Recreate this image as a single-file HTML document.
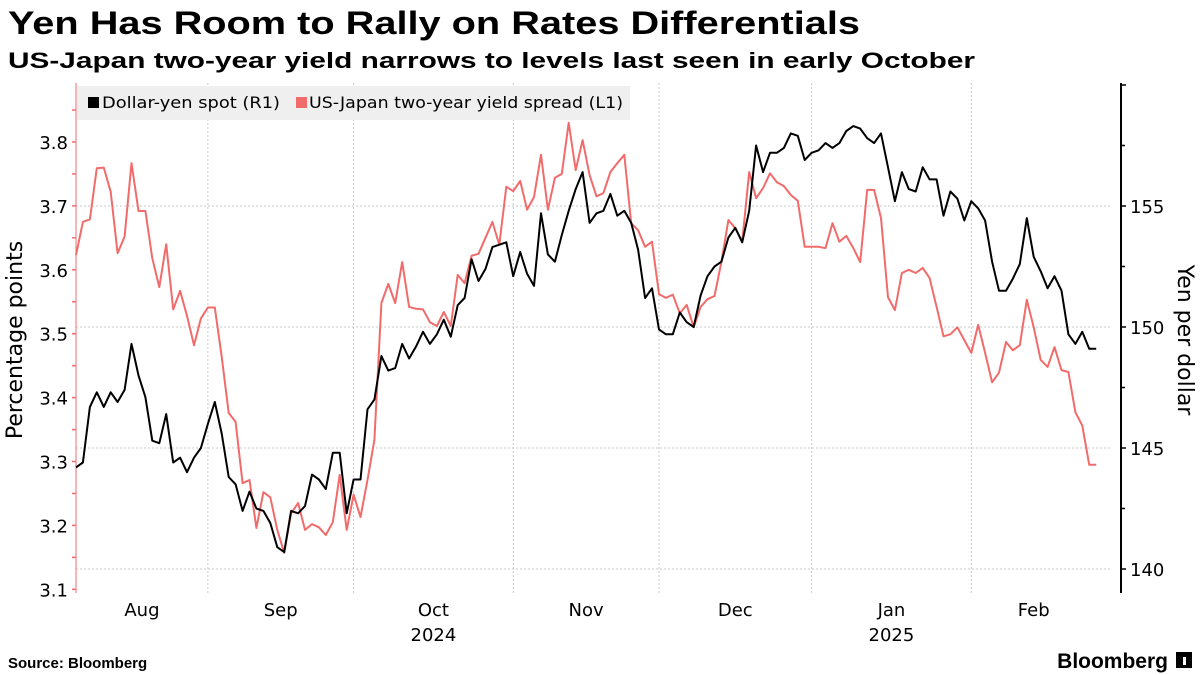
<!DOCTYPE html>
<html><head><meta charset="utf-8"><style>
body{margin:0;background:#fff;width:1200px;height:675px;overflow:hidden}
svg{display:block;font-family:"Liberation Sans",sans-serif}
.dv{font-family:"DejaVu Sans","Liberation Sans",sans-serif}
</style></head><body>
<svg id="chart" width="1200" height="675" viewBox="0 0 1200 675">
<text x="8" y="34" font-size="32" font-weight="bold" textLength="852" lengthAdjust="spacingAndGlyphs">Yen Has Room to Rally on Rates Differentials</text>
<text x="8" y="68" font-size="22" font-weight="bold" textLength="967" lengthAdjust="spacingAndGlyphs">US-Japan two-year yield narrows to levels last seen in early October</text>
<g id="grid"></g>
<rect x="77" y="86" width="553" height="34" fill="#efefef"/>
<rect x="88" y="97" width="11" height="11" fill="#000"/>
<text class="dv" x="102" y="108" font-size="16" textLength="178" lengthAdjust="spacingAndGlyphs">Dollar-yen spot (R1)</text>
<rect x="296" y="97" width="11" height="11" fill="#f26b6b"/>
<text class="dv" x="309" y="108" font-size="16" textLength="314" lengthAdjust="spacingAndGlyphs">US-Japan two-year yield spread (L1)</text>
<g id="axes"></g>
<g id="series"></g>
<text class="dv" x="22" y="340" font-size="22" text-anchor="middle" transform="rotate(-90 22 340)">Percentage points</text>
<text class="dv" x="1178" y="340" font-size="22" text-anchor="middle" transform="rotate(90 1178 340)">Yen per dollar</text>
<text x="8" y="668" font-size="15" font-weight="bold">Source: Bloomberg</text>
<text x="1168" y="668" font-size="21" font-weight="bold" text-anchor="end">Bloomberg</text>
<rect x="1176" y="652" width="16" height="16" fill="#000"/>
<rect x="1183" y="657" width="3" height="8" fill="#fff"/>
</svg>
<script>
const startDate = "2024-08-06";
const usdjpy = [144.2,144.4,146.7,147.3,146.7,147.3,146.9,147.4,149.3,148.0,147.1,145.3,145.2,146.4,144.4,144.6,144.0,144.6,145.0,146.0,146.9,145.6,143.8,143.5,142.4,143.2,142.5,142.4,141.9,140.9,140.7,142.4,142.3,142.6,143.9,143.7,143.3,144.8,144.8,142.3,143.7,143.7,146.6,147.0,148.8,148.2,148.3,149.3,148.7,149.2,149.8,149.3,149.7,150.3,149.6,150.9,151.2,152.8,151.9,152.4,153.3,153.4,153.5,152.1,153.1,152.2,151.7,154.7,153.0,152.7,153.8,154.8,155.7,156.4,154.3,154.7,154.8,155.5,154.6,154.8,154.3,153.2,151.2,151.6,149.9,149.7,149.7,150.6,150.2,150.0,151.3,152.1,152.5,152.7,153.7,154.1,153.5,154.8,157.5,156.4,157.2,157.2,157.4,158.0,157.9,156.9,157.2,157.3,157.6,157.4,157.6,158.1,158.3,158.2,157.8,157.6,158.0,156.6,155.2,156.4,155.7,155.6,156.6,156.1,156.1,154.6,155.6,155.3,154.4,155.2,154.9,154.4,152.7,151.5,151.5,152.0,152.6,154.5,152.9,152.3,151.6,152.1,151.5,149.7,149.3,149.8,149.1,149.1];
const spread = [3.623,3.675,3.679,3.759,3.760,3.722,3.626,3.652,3.767,3.692,3.692,3.618,3.573,3.640,3.538,3.567,3.528,3.482,3.524,3.541,3.541,3.464,3.376,3.362,3.266,3.271,3.196,3.252,3.244,3.193,3.157,3.219,3.235,3.193,3.202,3.197,3.185,3.205,3.279,3.193,3.248,3.213,3.271,3.334,3.548,3.578,3.548,3.612,3.542,3.539,3.538,3.518,3.512,3.534,3.512,3.592,3.579,3.622,3.625,3.650,3.675,3.639,3.730,3.723,3.739,3.694,3.714,3.780,3.694,3.744,3.750,3.830,3.756,3.803,3.748,3.715,3.720,3.753,3.767,3.780,3.673,3.662,3.636,3.644,3.562,3.556,3.561,3.532,3.545,3.510,3.542,3.554,3.559,3.612,3.678,3.665,3.644,3.753,3.712,3.728,3.751,3.737,3.731,3.717,3.708,3.636,3.636,3.636,3.634,3.673,3.644,3.653,3.634,3.612,3.725,3.725,3.681,3.557,3.537,3.595,3.600,3.595,3.603,3.587,3.542,3.496,3.499,3.510,3.490,3.470,3.514,3.470,3.424,3.439,3.487,3.474,3.482,3.553,3.510,3.459,3.448,3.479,3.443,3.440,3.377,3.356,3.295,3.295];
const leftTicks = [3.1,3.2,3.3,3.4,3.5,3.6,3.7,3.8];
const rightTicks = [140,145,150,155];
const monthNames = ["Aug","Sep","Oct","Nov","Dec","Jan","Feb"];
const yearLabels = {"Oct":"2024","Jan":"2025"};

const NS="http://www.w3.org/2000/svg";
function mk(tag,attrs,parent,txt){const e=document.createElementNS(NS,tag);for(const k in attrs)e.setAttribute(k,attrs[k]);if(txt!==undefined)e.textContent=txt;parent.appendChild(e);return e;}
const X0=76, STEP=6.94, PL=76, PR=1121, TOP=83, BOT=593;
const xS=i=>X0+i*STEP;
const yL=v=>142+(3.8-v)*639;
const yR=v=>327-(v-150)*24.2;

const dates=[];let d=new Date(startDate+"T00:00:00Z");
while(dates.length<Math.max(usdjpy.length,spread.length)){const w=d.getUTCDay();if(w!==0&&w!==6)dates.push(new Date(d));d.setUTCDate(d.getUTCDate()+1);}

const grid=document.getElementById('grid'),axes=document.getElementById('axes'),ser=document.getElementById('series');
const months=[];
dates.forEach((dt,i)=>{const m=dt.getUTCMonth();if(!months.length||months[months.length-1].m!==m)months.push({m,i});});
months.forEach((mo,k)=>{
  if(mo.i>0){const g=mk('line',{x1:xS(mo.i),x2:xS(mo.i),y1:TOP,y2:BOT,stroke:'#c8c8c8','stroke-dasharray':'2,2'},grid);
  
  }
  const start=k===0?PL:xS(mo.i);const end=k<months.length-1?xS(months[k+1].i):xS(dates.length-1);
  const name=monthNames[k];
  const t=mk('text',{x:(start+end)/2,y:616,'font-size':18,'text-anchor':'middle','class':'dv'},axes,name);
  
  
  if(yearLabels[name]){const y=mk('text',{x:(start+end)/2,y:641,'font-size':18,'text-anchor':'middle','class':'dv'},axes,yearLabels[name]);
  
  }
});
rightTicks.forEach(v=>{const g=mk('line',{x1:PL,x2:PR-10,y1:yR(v),y2:yR(v),stroke:'#c8c8c8','stroke-dasharray':'2,2'},grid);
  
  
  const t=mk('text',{x:1130,y:yR(v)+7,'font-size':18,'class':'dv'},axes,String(v));
  
  });
for(let v=140;v<=160;v+=2.5){const t=mk('line',{x1:PR,x2:PR+(v%5===0?5:4),y1:yR(v),y2:yR(v),stroke:'#000','stroke-width':1.5},axes);
  
  }
const ra=mk('line',{x1:PR,x2:PR,y1:TOP,y2:BOT,stroke:'#000','stroke-width':2},axes);


const la=mk('line',{x1:PL,x2:PL,y1:TOP,y2:BOT,stroke:'#f26b6b','stroke-width':1},axes);


for(let v=3.1;v<=3.86;v+=0.05){const t=mk('line',{x1:PL-4,x2:PL,y1:yL(v),y2:yL(v),stroke:'#f26b6b','stroke-width':1.5},axes);
  
  }
leftTicks.forEach(v=>{const t=mk('text',{x:68,y:yL(v)+7,'font-size':18,'text-anchor':'end','class':'dv'},axes,v.toFixed(1));
  
  });
const p1=mk('polyline',{points:spread.map((v,i)=>xS(i).toFixed(1)+','+yL(v).toFixed(1)).join(' '),fill:'none',stroke:'#f26b6b','stroke-width':2,'stroke-linejoin':'round'},ser);


const p2=mk('polyline',{points:usdjpy.map((v,i)=>xS(i).toFixed(1)+','+yR(v).toFixed(1)).join(' '),fill:'none',stroke:'#000','stroke-width':2,'stroke-linejoin':'round'},ser);


</script>
</body></html>
